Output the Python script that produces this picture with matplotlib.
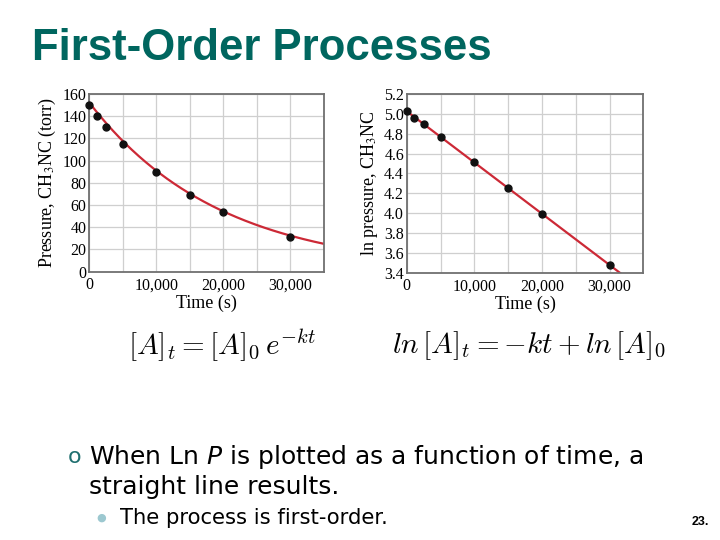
import matplotlib
matplotlib.use('Agg')
import matplotlib.pyplot as plt
from matplotlib.ticker import MultipleLocator, FuncFormatter
import numpy as np

# 数据：时间 (s) 与 CH3NC 压力 (torr)
time_s = [0, 1100, 2500, 5000, 10000, 15000, 20000, 30000]
pressure = [150, 140.5, 130, 114.5, 90, 69, 54, 31.5]
ln_pressure = [5.03, 4.96, 4.90, 4.77, 4.51, 4.25, 3.99, 3.48]

title_color = '#00665f'
line_color = '#cc2936'
frame_color = '#707070'
grid_color = '#cfcfcf'

# 一级反应拟合 ln P = -kt + ln P0
fit = np.polyfit(time_s, ln_pressure, 1)
t_curve = np.linspace(0, 35000, 200)

fig = plt.figure(figsize=(7.2, 5.4), dpi=100)
fig.patch.set_facecolor('white')

def style_axes(ax):
    for s in ax.spines.values():
        s.set_color(frame_color)
        s.set_linewidth(1.3)
    ax.xaxis.set_major_locator(MultipleLocator(10000))
    ax.xaxis.set_minor_locator(MultipleLocator(5000))
    ax.xaxis.set_major_formatter(FuncFormatter(lambda v, p: f'{int(v):,}'))
    ax.grid(True, which='both', color=grid_color, linewidth=0.9)
    ax.set_axisbelow(True)
    ax.tick_params(which='both', length=0, pad=2, labelsize=11.5)
    ax.tick_params(axis='x', pad=4)
    for lab in ax.get_xticklabels() + ax.get_yticklabels():
        lab.set_family('Liberation Serif')
    ax.set_xlabel('Time (s)', family='Liberation Serif', fontsize=13, labelpad=1)

# 左图：压力随时间
ax1 = fig.add_axes([0.124, 0.497, 0.326, 0.329])
ax1.plot(t_curve, np.exp(np.polyval(fit, t_curve)), color=line_color, lw=1.6, zorder=2)
ax1.plot(time_s, pressure, 'o', color='#111111', ms=5, zorder=3, clip_on=False)
ax1.set_xlim(0, 35000)
ax1.set_ylim(0, 160)
ax1.yaxis.set_major_locator(MultipleLocator(20))
style_axes(ax1)
ax1.set_ylabel('Pressure, CH$_3$NC (torr)', family='Liberation Serif', fontsize=13,
               labelpad=3, math_fontfamily='stix')

# 右图：ln 压力随时间
ax2 = fig.add_axes([0.565, 0.495, 0.3286, 0.331])
ax2.plot(t_curve, np.polyval(fit, t_curve), color=line_color, lw=1.6, zorder=2)
ax2.plot(time_s, ln_pressure, 'o', color='#111111', ms=5, zorder=3, clip_on=False)
ax2.set_xlim(0, 35000)
ax2.set_ylim(3.4, 5.2)
ax2.yaxis.set_major_locator(MultipleLocator(0.2))
ax2.yaxis.set_major_formatter(FuncFormatter(lambda v, p: f'{v:.1f}'))
style_axes(ax2)
ax2.set_ylabel('ln pressure, CH$_3$NC', family='Liberation Serif', fontsize=13,
               labelpad=3, math_fontfamily='stix')

# 标题
fig.text(32/720, 1 - 48/540, 'First-Order Processes', family='Liberation Sans',
         fontweight='bold', fontsize=31.5, color=title_color, va='center', ha='left')

# 公式
fig.text(128/720, 1 - 346/540, r'$[A]_t = [A]_0\,e^{-kt}$', fontsize=21,
         math_fontfamily='cm', va='center', ha='left')
fig.text(392/720, 1 - 346/540, r'$ln\,[A]_t = -kt + ln\,[A]_0$', fontsize=21,
         math_fontfamily='cm', va='center', ha='left')

# 正文要点
fig.text(68/720, 1 - 457/540, 'o', fontsize=16, color='#1f6f6f', va='center', ha='left',
         family='DejaVu Sans')
fig.text(89/720, 1 - 457/540, r'When Ln $\mathit{P}$ is plotted as a function of time, a',
         fontsize=18, family='DejaVu Sans', va='center', ha='left', math_fontfamily='dejavusans')
fig.text(89/720, 1 - 487/540, 'straight line results.', fontsize=18, family='DejaVu Sans',
         va='center', ha='left')
fig.text(101/720, 1 - 518/540, '\u25cf', fontsize=8, color='#9cc8d0', va='center', ha='center',
         family='DejaVu Sans')
fig.text(120/720, 1 - 518/540, 'The process is first-order.', fontsize=15.2, family='DejaVu Sans',
         va='center', ha='left')
fig.text(700/720, 1 - 522/540, '23.', fontsize=9, fontweight='bold', family='Liberation Sans',
         va='center', ha='center')

fig.savefig('out.png', dpi=100)
